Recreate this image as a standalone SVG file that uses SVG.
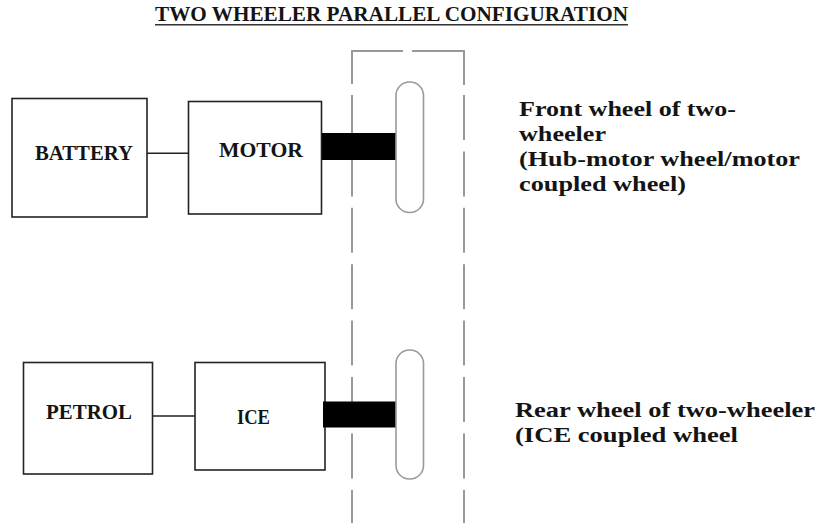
<svg xmlns="http://www.w3.org/2000/svg" width="821" height="523" viewBox="0 0 821 523">
<style>
.box{fill:#fff;stroke:#222;stroke-width:1.6}
.t{font-family:"Liberation Serif","Times New Roman",Times,serif;font-weight:bold;font-size:20px;fill:#141414}
.conn{stroke:#222;stroke-width:1.6;fill:none}
.shaft{fill:#000}
.wheel{fill:#fff;stroke:#9a9a9a;stroke-width:1.6}
.dash{stroke:#999;stroke-width:2;fill:none}
</style>
<rect width="821" height="523" fill="#fff"/>
<g id="title">
<text class="t" x="155" y="21" textLength="473" lengthAdjust="spacingAndGlyphs" font-size="17">TWO WHEELER PARALLEL CONFIGURATION</text>
<line x1="155" y1="24.8" x2="628" y2="24.8" stroke="#333" stroke-width="1.5"/>
</g>
<g id="frame">
<path class="dash" d="M352,84 V51 H403 M412,51 H464 V85"/>
<line class="dash" x1="352" y1="95" x2="352" y2="523" stroke-dasharray="45 11.4"/>
<line class="dash" x1="464" y1="95" x2="464" y2="523" stroke-dasharray="45 11.4"/>
</g>
<g id="connectors">
<line class="conn" x1="147" y1="153.3" x2="188" y2="153.3"/>
<line class="conn" x1="153" y1="416" x2="195" y2="416"/>
</g>
<g id="battery">
<rect class="box" x="12" y="98.5" width="135" height="118.5"/>
<text class="t" x="35" y="160" textLength="98" lengthAdjust="spacingAndGlyphs">BATTERY</text>
</g>
<g id="motor">
<rect class="box" x="188.5" y="101.5" width="133" height="112.5"/>
<text class="t" x="219" y="157" textLength="84" lengthAdjust="spacingAndGlyphs">MOTOR</text>
</g>
<g id="petrol">
<rect class="box" x="23.5" y="362.5" width="129" height="111.5"/>
<text class="t" x="46" y="418.5" textLength="86" lengthAdjust="spacingAndGlyphs">PETROL</text>
</g>
<g id="ice">
<rect class="box" x="195" y="362.5" width="130" height="107.5"/>
<text class="t" x="237" y="424" textLength="33" lengthAdjust="spacingAndGlyphs">ICE</text>
</g>
<g id="front-wheel">
<rect class="shaft" x="322" y="133" width="75" height="27"/>
<rect class="wheel" x="396" y="82" width="27.5" height="130.5" rx="13.5" ry="13.5"/>
</g>
<g id="rear-wheel">
<rect class="shaft" x="323" y="401.5" width="74" height="26"/>
<rect class="wheel" x="396" y="350" width="27.5" height="129" rx="13.5" ry="13.5"/>
</g>
<g id="front-label">
<text class="t" x="519" y="116" textLength="217" lengthAdjust="spacingAndGlyphs">Front wheel of two-</text>
<text class="t" x="519" y="141" textLength="87" lengthAdjust="spacingAndGlyphs">wheeler</text>
<text class="t" x="519" y="166" textLength="281" lengthAdjust="spacingAndGlyphs">(Hub-motor wheel/motor</text>
<text class="t" x="519" y="190.5" textLength="167" lengthAdjust="spacingAndGlyphs">coupled wheel)</text>
</g>
<g id="rear-label">
<text class="t" x="515" y="417" textLength="300" lengthAdjust="spacingAndGlyphs">Rear wheel of two-wheeler</text>
<text class="t" x="515" y="442" textLength="223" lengthAdjust="spacingAndGlyphs">(ICE coupled wheel</text>
</g>
</svg>
